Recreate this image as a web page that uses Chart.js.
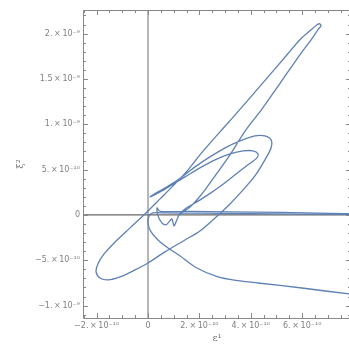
<!DOCTYPE html>
<html><head><meta charset="utf-8">
<script src="https://cdn.jsdelivr.net/npm/chart.js@4/dist/chart.umd.min.js"></script>
<style>html,body{margin:0;padding:0;overflow:hidden;background:#fff}#wrap{width:351px;height:346px;position:relative}</style>
</head><body><div id="wrap"><canvas id="c"></canvas></div>
<script>
// All values are in units of 1e-10
// Path 1: tall loop, big ellipse, outer & inner loops, wiggles, return along the axis
const path1X = [1.25,1.60,1.90,2.22,2.61,3.19,3.81,4.44,5.18,5.91,6.38,6.61,6.73,6.69,6.58,6.30,5.91,5.41,4.47,3.46,2.80,2.02,1.56,1.05,0.47,-0.12,-0.70,-1.28,-1.71,-1.95,-2.02,-1.87,-1.56,-1.09,-0.51,0.00,0.66,1.44,2.02,2.61,3.19,3.70,4.16,4.55,4.79,4.79,4.55,4.16,3.58,3.00,2.41,1.83,1.32,0.86,0.39,0.08,0.47,0.93,1.44,2.02,2.61,3.19,3.70,4.09,4.28,4.24,3.89,3.39,2.88,2.33,1.83,1.44,1.21,1.09,1.01,0.93,0.82,0.70,0.54,0.39,0.35,0.47,1.63,3.19,5.14,7.08,8.25];
const path1Y = [0.10,0.80,1.65,2.76,4.30,6.62,9.38,11.70,14.68,17.66,19.43,20.42,20.86,21.08,20.97,20.31,19.32,17.66,14.57,11.26,9.16,6.62,4.97,3.42,1.77,0.11,-1.43,-2.98,-4.30,-5.41,-6.29,-6.95,-7.17,-6.84,-6.07,-5.30,-4.08,-2.76,-1.77,-0.33,1.21,2.76,4.30,6.07,7.40,8.28,8.72,8.72,8.17,7.40,6.40,5.30,4.19,3.31,2.54,1.99,2.54,3.31,4.19,5.19,6.07,6.73,7.06,7.06,6.73,6.29,5.52,4.42,3.31,2.21,1.32,0.66,0.00,-0.77,-1.21,-0.44,-0.77,-1.10,-0.88,-0.11,0.77,0.39,0.39,0.33,0.28,0.17,0.11];
// Path 2: along the axis and back along the lower branch
const path2X = [8.25,5.91,3.97,2.02,0.66,0.19,0.04,0.00,0.12,0.39,0.78,1.25,1.83,2.72,3.58,4.28,5.99,7.82,8.25];
const path2Y = [0.06,0.09,0.13,0.19,0.22,0.22,-0.11,-0.99,-1.88,-2.76,-3.64,-4.53,-5.74,-6.84,-7.28,-7.51,-8.06,-8.72,-8.83];

const xTickValues = [-2,0,2,4,6];
const xTickLabels = ['\u22122.\u2009\u00d7\u200910\u207b\u00b9\u2070','0','2.\u2009\u00d7\u200910\u207b\u00b9\u2070','4.\u2009\u00d7\u200910\u207b\u00b9\u2070','6.\u2009\u00d7\u200910\u207b\u00b9\u2070'];
const yTickValues = [-10,-5,0,5,10,15,20];
const yTickLabels = ['\u22121.\u2009\u00d7\u200910\u207b\u2079','\u22125.\u2009\u00d7\u200910\u207b\u00b9\u2070','0','5.\u2009\u00d7\u200910\u207b\u00b9\u2070','1.\u2009\u00d7\u200910\u207b\u2079','1.5\u2009\u00d7\u200910\u207b\u2079','2.\u2009\u00d7\u200910\u207b\u2079'];
const xRange = [-2.53, 7.90];
const yRange = [-11.37, 22.6];
const xMinorStep = 0.5, yMinorStep = 1;

const LINE = '#5e81b5';
const toPts = (xs, ys) => xs.map((x, i) => ({x, y: ys[i]}));

const framePlugin = {
  id: 'frame',
  beforeDatasetsDraw(chart) {
    const {ctx, chartArea: a, scales: {x, y}} = chart;
    ctx.save();
    const x0 = x.getPixelForValue(0), y0 = y.getPixelForValue(0);
    ctx.strokeStyle = '#a4a4a4'; ctx.lineWidth = 1.6;
    ctx.beginPath(); ctx.moveTo(x0, a.top); ctx.lineTo(x0, a.bottom); ctx.stroke();
    ctx.strokeStyle = '#666'; ctx.lineWidth = 1.1;
    ctx.beginPath(); ctx.moveTo(a.left, y0); ctx.lineTo(a.right, y0); ctx.stroke();
    ctx.restore();
  },
  afterDatasetsDraw(chart) {
    const {ctx, chartArea: a, scales: {x, y}} = chart;
    ctx.save();
    ctx.strokeStyle = '#888'; ctx.lineWidth = 1;
    ctx.beginPath();
    ctx.rect(Math.round(a.left) + 0.5, Math.round(a.top) + 0.5, a.right - a.left, a.bottom - a.top);
    ctx.stroke();
    ctx.beginPath();
    for (let v = Math.ceil(xRange[0] / xMinorStep) * xMinorStep; v <= xRange[1]; v += xMinorStep) {
      const r = Math.round(v * 10) / 10;
      const len = xTickValues.includes(r) ? 5 : 3;
      const px = Math.round(x.getPixelForValue(r)) + 0.5;
      ctx.moveTo(px, a.bottom); ctx.lineTo(px, a.bottom - len);
      ctx.moveTo(px, a.top); ctx.lineTo(px, a.top + len);
    }
    for (let v = Math.ceil(yRange[0] / yMinorStep) * yMinorStep; v <= yRange[1]; v += yMinorStep) {
      const r = Math.round(v);
      const len = yTickValues.includes(r) ? 5 : 3;
      const py = Math.round(y.getPixelForValue(r)) + 0.5;
      ctx.moveTo(a.left, py); ctx.lineTo(a.left + len, py);
      ctx.moveTo(a.right, py); ctx.lineTo(a.right - len, py);
    }
    ctx.stroke();
    ctx.restore();
  }
};

const ds = (pts) => ({data: pts, showLine: true, borderColor: LINE, borderWidth: 1.3, pointRadius: 0, tension: 0.3, fill: false});

new Chart(document.getElementById('c'), {
  type: 'scatter',
  data: {datasets: [ds(toPts(path1X, path1Y)), ds(toPts(path2X, path2Y))]},
  options: {
    responsive: true, maintainAspectRatio: false, animation: false,
    layout: {padding: {top: 10, right: 0, left: 0, bottom: 0}},
    plugins: {legend: {display: false}, tooltip: {enabled: false}},
    scales: {
      x: {
        type: 'linear', min: xRange[0], max: xRange[1],
        afterBuildTicks: s => { s.ticks = xTickValues.map(v => ({value: v})); },
        afterFit: s => { s.height = 28; },
        grid: {display: false, drawTicks: false}, border: {display: false},
        ticks: {autoSkip: false, maxRotation: 0, padding: 3, color: '#808080', font: {family: 'DejaVu Sans', size: 8},
          callback: v => xTickLabels[xTickValues.indexOf(v)]},
        title: {display: true, text: '\u03b5\u00b9', color: '#777', font: {family: 'DejaVu Serif', size: 10}, padding: {top: 0, bottom: 2}}
      },
      y: {
        type: 'linear', min: yRange[0], max: yRange[1],
        afterBuildTicks: s => { s.ticks = yTickValues.map(v => ({value: v})); },
        afterFit: s => { s.width = 83; },
        grid: {display: false, drawTicks: false}, border: {display: false},
        ticks: {autoSkip: false, padding: 3, color: '#808080', font: {family: 'DejaVu Sans', size: 8},
          callback: v => yTickLabels[yTickValues.indexOf(v)]},
        title: {display: true, text: '\u03be\u00b2', color: '#777', font: {family: 'DejaVu Serif', size: 10}, padding: {top: 14, bottom: 0}}
      }
    }
  },
  plugins: [framePlugin]
});
</script></body></html>
